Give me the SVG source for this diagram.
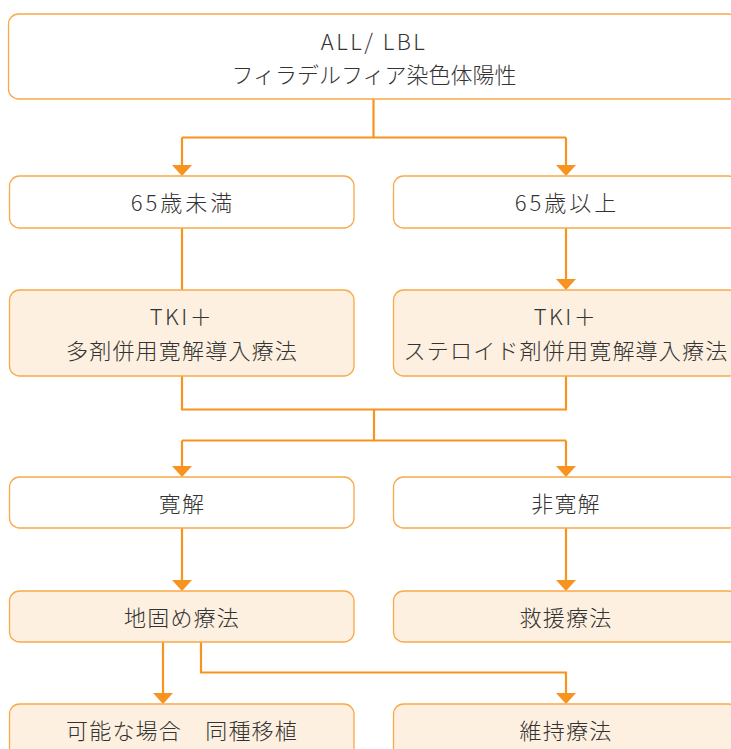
<svg xmlns="http://www.w3.org/2000/svg" width="731" height="749" viewBox="0 0 731 749">
<style>
.box{stroke:#f8a94a;stroke-width:1.3}
.w{fill:#ffffff}
.c{fill:#fdf0e0}
.t{font-family:"Noto Sans CJK JP","Noto Sans",sans-serif;font-weight:300;font-size:22px;fill:#333333;text-anchor:middle;dominant-baseline:central;letter-spacing:1.2px}
.lat{letter-spacing:2.5px}
.num{letter-spacing:3px}
.kana{letter-spacing:0px}
.ln{fill:none;stroke:#f7931e;stroke-width:2.2}
.ah{fill:#f7931e}
</style>
<rect width="731" height="749" fill="#ffffff"/>
<g id="connectors">
<path class="ln" d="M373.5 99 V137.5 M182 137.5 H566 M182 137.5 V167 M566 137.5 V167"/>
<path class="ln" d="M182 228 V290 M566 228 V281"/>
<path class="ln" d="M182 376 V409.5 H566 V376 M374 409.5 V440.5 M182 440.5 H566 M182 440.5 V468 M566 440.5 V468"/>
<path class="ln" d="M182 528 V582 M566 528 V582"/>
<path class="ln" d="M163 642 V695 M201 642 V672.5 H566 V695"/>
<polygon class="ah" points="172,165 192,165 182,176"/>
<polygon class="ah" points="556,165 576,165 566,176"/>
<polygon class="ah" points="556,279 576,279 566,290"/>
<polygon class="ah" points="172,466 192,466 182,477"/>
<polygon class="ah" points="556,466 576,466 566,477"/>
<polygon class="ah" points="172,580 192,580 182,591"/>
<polygon class="ah" points="556,580 576,580 566,591"/>
<polygon class="ah" points="153,693 173,693 163,704"/>
<polygon class="ah" points="556,693 576,693 566,704"/>
</g>
<g id="n1"><rect class="box w" x="8.5" y="14" width="730" height="85" rx="10"/><text class="t lat" x="374" y="40">ALL/ LBL</text><text class="t kana" x="374" y="73">フィラデルフィア染色体陽性</text></g>
<g id="n2"><rect class="box w" x="9.5" y="176" width="344.5" height="52" rx="10"/><text class="t num" x="183" y="201">65歳未満</text></g>
<g id="n3"><rect class="box w" x="393.5" y="176" width="345" height="52" rx="10"/><text class="t num" x="567" y="201">65歳以上</text></g>
<g id="n4"><rect class="box c" x="9.5" y="290" width="344.5" height="86" rx="10"/><text class="t lat" x="182" y="315">TKI＋</text><text class="t" x="182" y="349">多剤併用寛解導入療法</text></g>
<g id="n5"><rect class="box c" x="393.5" y="290" width="345" height="86" rx="10"/><text class="t lat" x="566" y="315">TKI＋</text><text class="t" x="566" y="349">ステロイド剤併用寛解導入療法</text></g>
<g id="n6"><rect class="box w" x="9.5" y="477" width="344.5" height="51" rx="10"/><text class="t" x="182" y="502">寛解</text></g>
<g id="n7"><rect class="box w" x="393.5" y="477" width="345" height="51" rx="10"/><text class="t" x="566" y="502">非寛解</text></g>
<g id="n8"><rect class="box c" x="9.5" y="591" width="344.5" height="51" rx="10"/><text class="t" x="182" y="616">地固め療法</text></g>
<g id="n9"><rect class="box c" x="393.5" y="591" width="345" height="51" rx="10"/><text class="t" x="566" y="616">救援療法</text></g>
<g id="n10"><rect class="box c" x="9.5" y="704" width="344.5" height="60" rx="10"/><text class="t" x="182" y="729">可能な場合　同種移植</text></g>
<g id="n11"><rect class="box c" x="393.5" y="704" width="345" height="60" rx="10"/><text class="t" x="566" y="729">維持療法</text></g>
</svg>
